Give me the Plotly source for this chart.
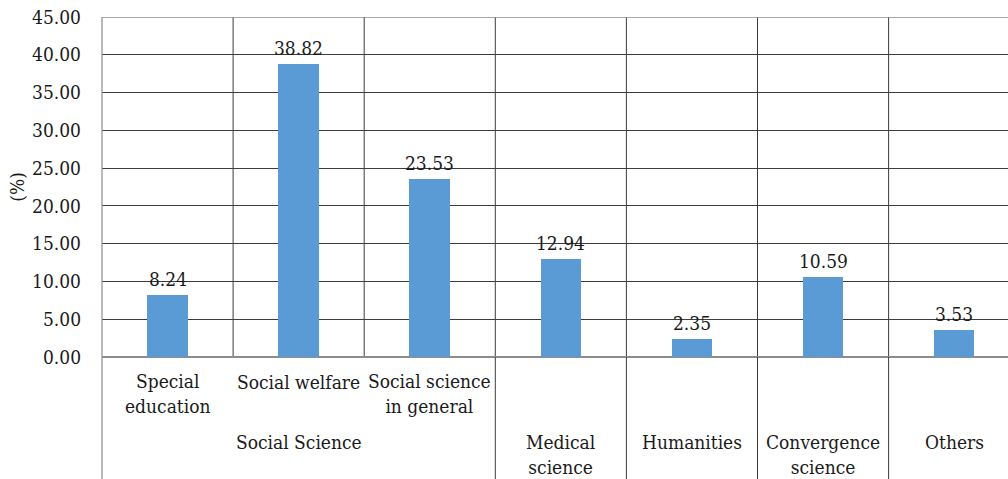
import plotly.graph_objects as go

# Field shares (%) by category
categories = ["Special education", "Social welfare", "Social science in general",
              "Medical science", "Humanities", "Convergence science", "Others"]
values = [8.24, 38.82, 23.53, 12.94, 2.35, 10.59, 3.53]

# Tick-row labels under the axis
sub_labels = ["Special<br>education", "Social welfare", "Social science<br>in general"]
group_label = "Social Science"
other_labels = ["Medical<br>science", "Humanities", "Convergence<br>science", "Others"]

y_ticks = [0, 5, 10, 15, 20, 25, 30, 35, 40, 45]

FONT = "DejaVu Serif Condensed, DejaVu Serif"
FS = 19
TXT = "#1a1a1a"
GRID = "#3c3c3c"
EDGE = "#8c8c8c"

W, H = 1008, 479
L, T, B = 102, 17, 122
plot_h = H - T - B


def py(pix):
    # pixel row -> paper y
    return (H - B - pix) / plot_h


x_idx = list(range(len(categories)))
cat_px = 131.1
span = (W - L) / cat_px

fig = go.Figure()
fig.add_trace(go.Bar(
    x=x_idx, y=values, width=0.31,
    marker=dict(color="#5b9bd5", line=dict(width=0)),
    hovertext=categories, hoverinfo="text+y",
))

shapes = []
# vertical separators inside the plot
for b in [0.5, 1.5, 2.5, 3.5, 4.5, 5.5]:
    shapes.append(dict(type="line", xref="x", yref="y", x0=b, x1=b, y0=0, y1=45,
                       line=dict(color=GRID, width=1), layer="below"))
# separators in the label area (between groups)
for b in [2.5, 3.5, 4.5, 5.5]:
    shapes.append(dict(type="line", xref="x", yref="paper", x0=b, x1=b, y0=0, y1=py(H),
                       line=dict(color=GRID, width=1)))
# left frame line down to the bottom
shapes.append(dict(type="line", xref="paper", yref="paper", x0=0, x1=0, y0=1, y1=py(H),
                   line=dict(color=EDGE, width=1.2)))
# top line at 45
shapes.append(dict(type="line", xref="paper", yref="y", x0=0, x1=1, y0=45, y1=45,
                   line=dict(color=EDGE, width=1.5)))

annotations = []
# value labels above bars
for i, v in enumerate(values):
    annotations.append(dict(x=i, y=v, xref="x", yref="y", text=f"{v:.2f}",
                            showarrow=False, yanchor="middle", yshift=16,
                            font=dict(family=FONT, size=FS, color=TXT)))
# sub-category labels
sub_y = [py(393.3), py(381.7), py(393.3)]
for i, (lab, yy) in enumerate(zip(sub_labels, sub_y)):
    annotations.append(dict(x=i, y=yy, xref="x", yref="paper", text=lab,
                            showarrow=False, yanchor="middle",
                            font=dict(family=FONT, size=FS, color=TXT)))
annotations.append(dict(x=1, y=py(441.7), xref="x", yref="paper", text=group_label,
                        showarrow=False, yanchor="middle",
                        font=dict(family=FONT, size=FS, color=TXT)))
other_y = [py(454.2), py(441.7), py(454.2), py(441.7)]
for j, (lab, yy) in enumerate(zip(other_labels, other_y)):
    annotations.append(dict(x=3 + j, y=yy, xref="x", yref="paper", text=lab,
                            showarrow=False, yanchor="middle",
                            font=dict(family=FONT, size=FS, color=TXT)))
# y-axis title
annotations.append(dict(x=(17 - L) / (W - L), y=py(186.7), xref="paper", yref="paper",
                        text="(%)", textangle=-90, showarrow=False,
                        xanchor="center", yanchor="middle",
                        font=dict(family=FONT, size=FS, color=TXT)))

fig.update_layout(
    width=W, height=H,
    margin=dict(l=L, r=0, t=T, b=B),
    paper_bgcolor="white", plot_bgcolor="white",
    showlegend=False,
    bargap=0,
    font=dict(family=FONT, size=FS, color=TXT),
    xaxis=dict(range=[-0.5, -0.5 + span], showticklabels=False, showgrid=False,
               zeroline=False, showline=False, ticks="", fixedrange=True),
    yaxis=dict(range=[0, 45], tickvals=y_ticks, tickformat=".2f",
               showgrid=True, gridcolor=GRID, gridwidth=1,
               zeroline=True, zerolinecolor=EDGE, zerolinewidth=1.5,
               showline=False, ticks="", ticklabelstandoff=20,
               tickfont=dict(family=FONT, size=FS, color=TXT), fixedrange=True),
    shapes=shapes,
    annotations=annotations,
)

fig.write_html("out.html")
